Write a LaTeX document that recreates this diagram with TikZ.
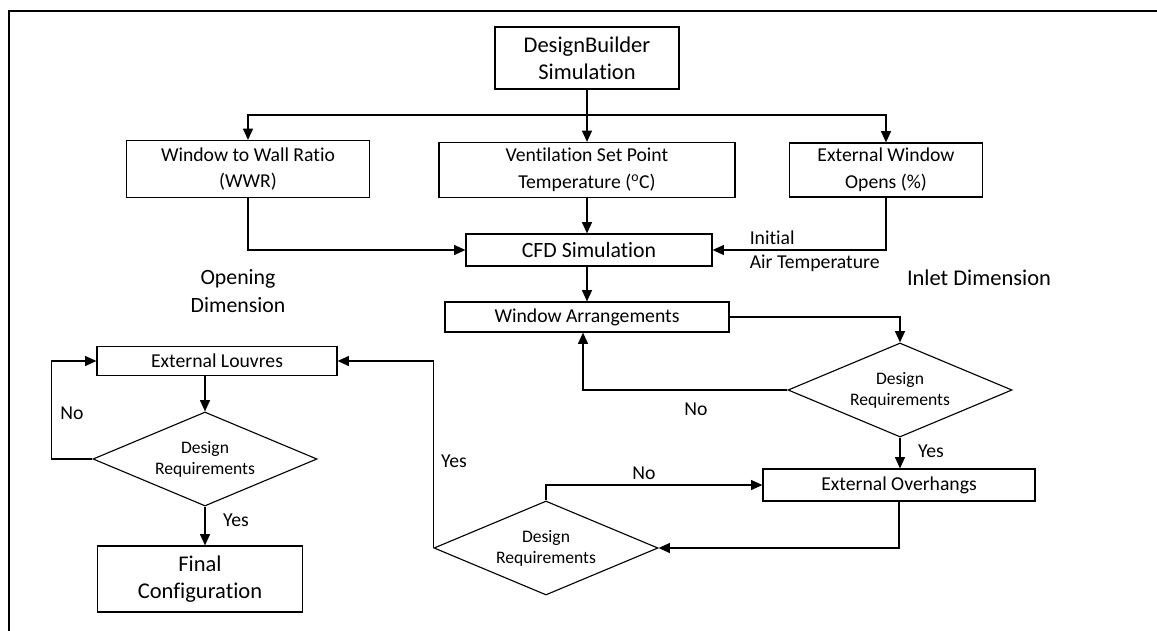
\documentclass[tikz,border=0pt]{standalone}
\usepackage{fontspec}
\setmainfont{Carlito}[Ligatures={NoCommon,NoContextual}]
\usetikzlibrary{shapes.geometric, arrows.meta, positioning}

\tikzset{
  box/.style={draw, line width=0.8pt, inner sep=0pt, align=center, font=\fontsize{14}{19}\selectfont},
  decision/.style={draw, diamond, aspect=2.36, line width=0.8pt, inner sep=0pt, minimum width=5.6cm, minimum height=2.35cm, align=center, font=\fontsize{12.5}{15}\selectfont},
  note/.style={inner sep=0pt, font=\fontsize{14}{19}\selectfont}
}

\begin{document}
\begin{tikzpicture}[x=0.025cm, y=-0.025cm, line width=1.1pt, >={Triangle[length=8pt,width=7pt]}]
  \useasboundingbox (0,0) rectangle (1157,631);
  \draw[line width=1.4pt] (9,631) -- (9,11) -- (1157,11);

  \node[box, minimum width=4.6cm, minimum height=1.55cm, font=\fontsize{16}{19}\selectfont] (db) at (587,58) {DesignBuilder\\Simulation};
  \node[box, minimum width=6.075cm, minimum height=1.425cm] (wwr) at (248,169) {Window to Wall Ratio\\(WWR)};
  \node[box, minimum width=7.4cm, minimum height=1.375cm] (vsp) at (587,170) {Ventilation Set Point\\Temperature (\textsuperscript{o}C)};
  \node[box, minimum width=4.825cm, minimum height=1.35cm] (ewo) at (886,170) {External Window\\Opens (\%)};
  \node[box, minimum width=6.15cm, minimum height=0.8cm, font=\fontsize{15.5}{19}\selectfont] (cfd) at (589,250) {CFD Simulation};
  \node[box, minimum width=7.1cm, minimum height=0.75cm] (wa) at (587,317) {Window Arrangements};
  \node[decision] (dr1) at (900,390) {Design\\Requirements};
  \node[box, minimum width=6.8cm, minimum height=0.8cm] (ovh) at (899,485) {External Overhangs};
  \node[decision] (dr2) at (546,548) {Design\\Requirements};
  \node[box, minimum width=6cm, minimum height=0.725cm] (lv) at (217,361) {External Louvres};
  \node[decision] (dr3) at (205,459) {Design\\Requirements};
  \node[box, minimum width=5.125cm, minimum height=1.65cm, font=\fontsize{16}{19}\selectfont] (fin) at (200,579) {Final\\Configuration};

  \node[note, anchor=west] (init) at (749,238) {Initial};
  \node[note, anchor=west] (air) at (749,263) {Air Temperature};
  \node[note, font=\fontsize{15.5}{20}\selectfont, align=center] (open) at (238,291) {Opening\\Dimension};
  \node[note, font=\fontsize{16}{19}\selectfont] (inlet) at (979,278) {Inlet Dimension};
  \node[note] (no1) at (696,409) {No};
  \node[note] (yes1) at (931,451) {Yes};
  \node[note] (no2) at (644,473) {No};
  \node[note] (yes2) at (454,461) {Yes};
  \node[note] (no3) at (72,413) {No};
  \node[note] (yes3) at (236,520) {Yes};

  \coordinate (split) at (587,115);
  \draw[->] (db.south) -- (vsp.north);
  \draw[->] (split) -| (wwr.north);
  \draw[->] (split) -| (ewo.north);
  \draw[->] (vsp.south) -- (vsp.south |- cfd.north);
  \draw[->] (wwr.south) |- (cfd.west);
  \draw[->] (ewo.south) |- (cfd.east);
  \draw[->] (wa.north |- cfd.south) -- (wa.north);
  \draw[->] (wa.east) -| (dr1.north);
  \draw[->] (dr1.west) -| ([xshift=-0.1cm]wa.south);
  \draw[->] (dr1.south) -- (dr1.south |- ovh.north);
  \draw[->] (ovh.south) |- (dr2.east);
  \draw[->] (dr2.north) |- (ovh.west);
  \draw[->] (dr2.west) |- (lv.east);
  \draw[->] (dr3.north |- lv.south) -- (dr3.north);
  \draw[->] (dr3.west) -- ++(-41,0) |- (lv.west);
  \draw[->] (dr3.south) -- (dr3.south |- fin.north);
\end{tikzpicture}
\end{document}
